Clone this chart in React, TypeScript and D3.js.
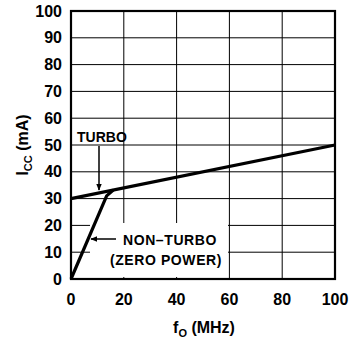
import * as d3 from 'd3';
import React from 'react';

// values
const xTicks = [0, 20, 40, 60, 80, 100];
const yTicks = [0, 10, 20, 30, 40, 50, 60, 70, 80, 90, 100];
const turboFreq = [0, 100];
const turboIcc = [30, 50];
const nonTurboFreq = [0, 13.5, 16];
const nonTurboIcc = [0, 31, 33.2];

export default function App() {
  const w = 350;
  const h = 344;
  const left = 71;
  const right = 335;
  const top = 11;
  const bottom = 279;

  const xScale = d3.scaleLinear().domain([0, 100]).range([left, right]);
  const yScale = d3.scaleLinear().domain([0, 100]).range([bottom, top]);

  const line = d3
    .line<[number, number]>()
    .x((d) => xScale(d[0]))
    .y((d) => yScale(d[1]));

  const turbo = turboFreq.map((f, i) => [f, turboIcc[i]] as [number, number]);
  const nonTurbo = nonTurboFreq.map((f, i) => [f, nonTurboIcc[i]] as [number, number]);

  const font = "'Liberation Sans', Arial, sans-serif";

  return (
    <svg
      width={w}
      height={h}
      style={{ position: 'absolute', left: 0, top: 0, background: 'white' }}
      fontFamily={font}>
      <defs>
        <marker
          id='arrowhead'
          viewBox='0 0 10 10'
          markerWidth='7'
          markerHeight='7'
          markerUnits='userSpaceOnUse'
          orient='auto'
          refX='9'
          refY='5'>
          <path d='M0,1 L10,5 L0,9 z' fill='black' />
        </marker>
      </defs>

      {/* grid */}
      <g stroke='black' strokeWidth={1}>
        {xTicks.map((t) => (
          <line key={'vx' + t} x1={xScale(t)} x2={xScale(t)} y1={top} y2={bottom} />
        ))}
        {yTicks.map((t) => (
          <line key={'hy' + t} x1={left} x2={right} y1={yScale(t)} y2={yScale(t)} />
        ))}
      </g>

      {/* white patch behind the non-turbo label */}
      <rect x={90} y={223} width={138} height={54} fill='white' />

      <rect
        x={left}
        y={top}
        width={right - left}
        height={bottom - top}
        fill='none'
        stroke='black'
        strokeWidth={2.2}
      />

      {/* curves */}
      <path d={line(turbo) ?? ''} fill='none' stroke='black' strokeWidth={3.2} />
      <path d={line(nonTurbo) ?? ''} fill='none' stroke='black' strokeWidth={3.2} strokeLinejoin='round' />

      {/* tick labels */}
      <g fontSize={16} fontWeight='bold' fill='black'>
        {yTicks.map((t) => (
          <text key={'yl' + t} x={left - 9} y={yScale(t) + 5.5} textAnchor='end'>
            {t}
          </text>
        ))}
        {xTicks.map((t) => (
          <text key={'xl' + t} x={xScale(t)} y={305} textAnchor='middle'>
            {t}
          </text>
        ))}
      </g>

      {/* axis titles */}
      <text x={204} y={333} textAnchor='middle' fontSize={16} fontWeight='bold'>
        f<tspan fontSize={11} dy={4}>O</tspan>
        <tspan dy={-4}> (MHz)</tspan>
      </text>
      <text
        transform='translate(28, 145) rotate(-90)'
        textAnchor='middle'
        fontSize={16}
        fontWeight='bold'>
        I<tspan fontSize={11} dy={4}>CC</tspan>
        <tspan dy={-4}> (mA)</tspan>
      </text>

      {/* annotations */}
      <text x={77} y={142} fontSize={14} fontWeight='bold'>
        TURBO
      </text>
      <line x1={99} y1={146} x2={99} y2={190} stroke='black' strokeWidth={1.5} markerEnd='url(#arrowhead)' />

      <text x={170} y={245} textAnchor='middle' fontSize={14} fontWeight='bold' letterSpacing={0.6}>
        NON–TURBO
      </text>
      <text x={166} y={265} textAnchor='middle' fontSize={14} fontWeight='bold' letterSpacing={0.6}>
        (ZERO POWER)
      </text>
      <line x1={116} y1={239} x2={91} y2={239} stroke='black' strokeWidth={1.5} markerEnd='url(#arrowhead)' />
    </svg>
  );
}
